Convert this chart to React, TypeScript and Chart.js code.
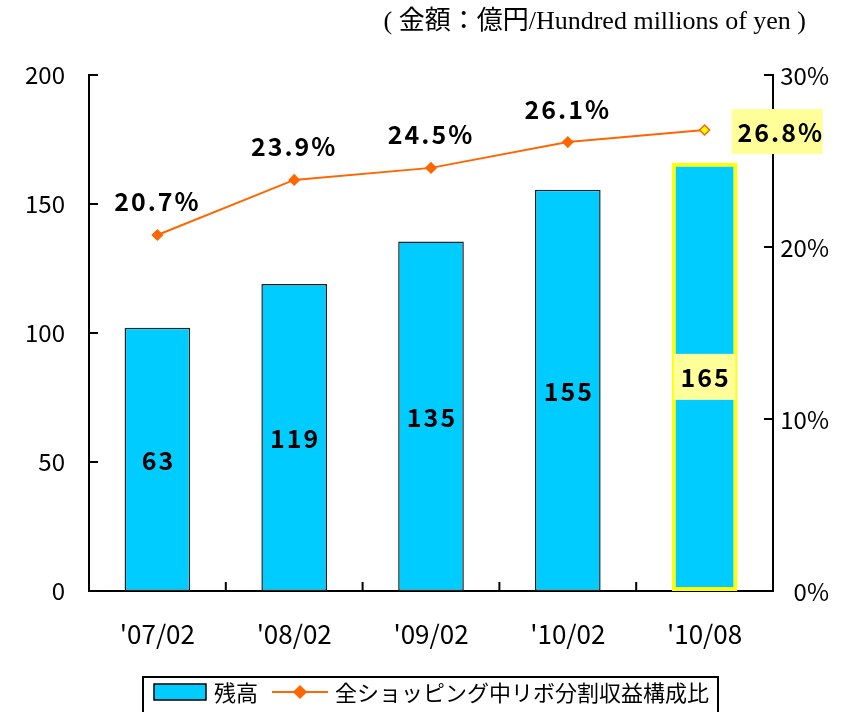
import React, { useEffect, useRef } from "react";
import { Chart, registerables } from "chart.js";

Chart.register(...registerables);

const categories = ["'07/02", "'08/02", "'09/02", "'10/02", "'10/08"];
const balanceValues = [102, 119, 135.5, 155.5, 166];
const balanceLabels = ["63", "119", "135", "155", "165"];
const ratioValues = [20.7, 23.9, 24.6, 26.1, 26.8];
const ratioLabels = ["20.7%", "23.9%", "24.5%", "26.1%", "26.8%"];
const leftTicks = [0, 50, 100, 150, 200];
const rightTicks = [0, 10, 20, 30];
const seriesNames = ["残高", "全ショッピング中リボ分割収益構成比"];
const unitTitle = "( 金額：億円/Hundred millions of yen )";

const BAR_COLOR = "#00CCFF";
const LINE_COLOR = "#FF6600";
const HILITE = "#FFFF99";
const GOTHIC = "'Noto Sans CJK JP', 'DejaVu Sans', sans-serif";

function drawDiamond(ctx: CanvasRenderingContext2D, x: number, y: number, r: number, fill: string, stroke: string) {
  ctx.beginPath();
  ctx.moveTo(x, y - r);
  ctx.lineTo(x + r, y);
  ctx.lineTo(x, y + r);
  ctx.lineTo(x - r, y);
  ctx.closePath();
  ctx.fillStyle = fill;
  ctx.fill();
  ctx.strokeStyle = stroke;
  ctx.lineWidth = 1.5;
  ctx.stroke();
}

const overlayPlugin = {
  id: "overlay",
  afterDraw(chart: any) {
    const ctx: CanvasRenderingContext2D = chart.ctx;
    const area = chart.chartArea;
    const xs = chart.scales.x;
    const yl = chart.scales.y;
    const yr = chart.scales.y1;
    ctx.save();
    // inward ticks
    ctx.strokeStyle = "#000";
    ctx.lineWidth = 2;
    ctx.beginPath();
    leftTicks.forEach((v) => {
      const y = yl.getPixelForValue(v);
      ctx.moveTo(area.left, y);
      ctx.lineTo(area.left + 9, y);
    });
    rightTicks.forEach((v) => {
      const y = yr.getPixelForValue(v);
      ctx.moveTo(area.right, y);
      ctx.lineTo(area.right - 9, y);
    });
    for (let i = 1; i < categories.length; i++) {
      const x = (xs.getPixelForValue(i - 1) + xs.getPixelForValue(i)) / 2;
      ctx.moveTo(x, area.bottom);
      ctx.lineTo(x, area.bottom - 9);
    }
    ctx.stroke();

    // right axis tick labels (right-aligned)
    ctx.font = `24px ${GOTHIC}`;
    ctx.fillStyle = "#000";
    ctx.textAlign = "right";
    ctx.textBaseline = "middle";
    rightTicks.forEach((v) => {
      ctx.fillText(v + "%", 829, yr.getPixelForValue(v) + 1);
    });

    // bar labels
    const barMeta = chart.getDatasetMeta(0);
    ctx.font = `bold 25px ${GOTHIC}`;
    (ctx as any).letterSpacing = "2px";
    ctx.textAlign = "center";
    ctx.textBaseline = "middle";
    barMeta.data.forEach((el: any, i: number) => {
      const cy = (el.y + el.base) / 2;
      const cx = el.x;
      if (i === categories.length - 1) {
        const w = el.width;
        ctx.fillStyle = HILITE;
        ctx.fillRect(cx - w / 2 + 2, cy - 23, w - 4, 46);
      }
      ctx.fillStyle = "#000";
      ctx.fillText(balanceLabels[i], cx + 1, cy + 1);
    });

    // line labels
    const lineMeta = chart.getDatasetMeta(1);
    lineMeta.data.forEach((el: any, i: number) => {
      if (i === categories.length - 1) {
        const bx = el.x + 27;
        ctx.fillStyle = HILITE;
        ctx.fillRect(bx, el.y - 21, 91, 45);
        ctx.fillStyle = "#000";
        ctx.textAlign = "left";
        ctx.fillText(ratioLabels[i], bx + 6, el.y + 2);
        ctx.textAlign = "center";
      } else {
        ctx.fillStyle = "#000";
        ctx.fillText(ratioLabels[i], el.x, el.y - 33);
      }
    });
    (ctx as any).letterSpacing = "0px";

    // title
    ctx.font = "26px 'Liberation Serif', 'Noto Sans CJK JP', serif";
    ctx.textAlign = "right";
    ctx.fillStyle = "#000";
    ctx.fillText(unitTitle, 806, 22);

    // legend
    ctx.strokeStyle = "#000";
    ctx.lineWidth = 2;
    ctx.strokeRect(143, 677, 575, 50);
    ctx.fillStyle = BAR_COLOR;
    ctx.fillRect(154, 684, 52, 16);
    ctx.lineWidth = 1.5;
    ctx.strokeRect(154, 684, 52, 16);
    ctx.font = `22px ${GOTHIC}`;
    ctx.textAlign = "left";
    ctx.fillStyle = "#000";
    ctx.fillText(seriesNames[0], 214, 693);
    ctx.strokeStyle = LINE_COLOR;
    ctx.lineWidth = 2;
    ctx.beginPath();
    ctx.moveTo(272, 692);
    ctx.lineTo(328, 692);
    ctx.stroke();
    drawDiamond(ctx, 300, 692, 6, LINE_COLOR, LINE_COLOR);
    ctx.fillStyle = "#000";
    ctx.fillText(seriesNames[1], 335, 693);
    ctx.restore();
  },
};

export default function App() {
  const ref = useRef<HTMLCanvasElement>(null);
  useEffect(() => {
    document.body.style.margin = "0";
    const last = categories.length - 1;
    const chart = new Chart(ref.current!, {
      type: "bar",
      data: {
        labels: categories,
        datasets: [
          {
            type: "bar",
            label: seriesNames[0],
            data: balanceValues,
            backgroundColor: BAR_COLOR,
            borderColor: categories.map((_, i) => (i === last ? "#FFFF00" : "#222")),
            borderWidth: categories.map((_, i) => (i === last ? 4 : 1.5)),
            borderSkipped: false,
            barPercentage: 0.48,
            categoryPercentage: 1,
            yAxisID: "y",
            order: 2,
          },
          {
            type: "line",
            label: seriesNames[1],
            data: ratioValues,
            borderColor: LINE_COLOR,
            borderWidth: 2,
            pointStyle: "rectRot",
            pointRadius: 5,
            pointBackgroundColor: categories.map((_, i) => (i === last ? "#FFFF00" : LINE_COLOR)),
            pointBorderColor: LINE_COLOR,
            pointBorderWidth: 1.5,
            yAxisID: "y1",
            order: 1,
          } as any,
        ],
      },
      options: {
        animation: false,
        responsive: false,
        layout: { padding: { top: 75, left: 0, right: 0, bottom: 0 } },
        plugins: { legend: { display: false }, tooltip: { enabled: false } },
        scales: {
          x: {
            offset: true,
            grid: { display: false, drawTicks: false },
            border: { display: true, color: "#000", width: 2 },
            ticks: { color: "#000", font: { family: GOTHIC, size: 26 }, padding: 28 },
            afterFit: (s: any) => {
              s.height = 121;
            },
          },
          y: {
            position: "left",
            min: 0,
            max: 200,
            grid: { display: false, drawTicks: false },
            border: { display: true, color: "#000", width: 2 },
            ticks: { stepSize: 50, color: "#000", font: { family: GOTHIC, size: 24 }, padding: 24 },
            afterFit: (s: any) => {
              s.width = 89;
            },
          },
          y1: {
            position: "right",
            min: 0,
            max: 30,
            grid: { display: false, drawTicks: false },
            border: { display: true, color: "#000", width: 2 },
            ticks: { stepSize: 10, display: false },
            afterFit: (s: any) => {
              s.width = 73;
            },
          },
        },
      },
      plugins: [overlayPlugin],
    });
    return () => chart.destroy();
  }, []);
  return (
    <div style={{ width: 846, height: 712, position: "relative" }}>
      <canvas ref={ref} width={846} height={712} style={{ display: "block" }} />
    </div>
  );
}
